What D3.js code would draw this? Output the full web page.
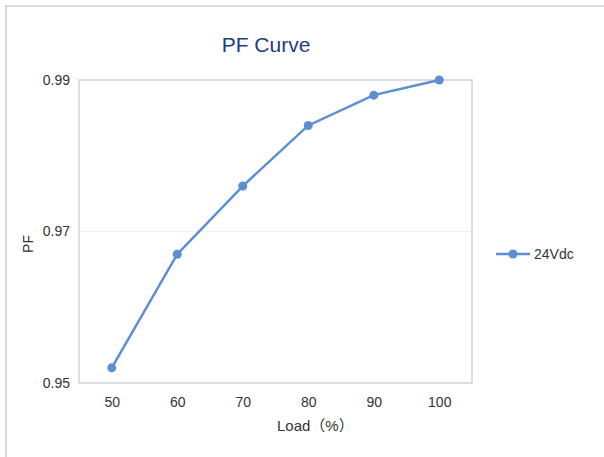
<!DOCTYPE html>
<html>
<head>
<meta charset="utf-8">
<script src="https://cdn.jsdelivr.net/npm/d3@7"></script>
<style>
  body { margin: 0; background: #fff; }
  text { font-family: "Liberation Sans", Arial, sans-serif; }
</style>
</head>
<body>
<div id="chart"></div>
<script>
const w = 604;
const h = 457;
// plot area edges
const plotLeft = 79;
const plotRight = 472;
const plotTop = 80;
const plotBottom = 383;

// data
const loads = ['50', '60', '70', '80', '90', '100'];
const pf24 = [0.952, 0.967, 0.976, 0.984, 0.988, 0.99];
const yTicks = [0.95, 0.97, 0.99];
const seriesName = '24Vdc';

const lineColor = '#5b8fd2';

const svg = d3
  .select('#chart')
  .append('svg')
  .attr('width', w)
  .attr('height', h);

// outer frame, cropped at right and bottom
svg
  .append('rect')
  .attr('x', 6)
  .attr('y', 6)
  .attr('width', 800)
  .attr('height', 800)
  .attr('fill', 'none')
  .attr('stroke', '#dadada')
  .attr('stroke-width', 2);

const xScale = d3
  .scalePoint()
  .domain(loads)
  .range([plotLeft, plotRight])
  .padding(0.5);
const yScale = d3.scaleLinear().domain([0.95, 0.99]).range([plotBottom, plotTop]);

// faint gridline
svg
  .append('g')
  .selectAll('line')
  .data(yTicks.slice(1, -1))
  .enter()
  .append('line')
  .attr('x1', plotLeft)
  .attr('x2', plotRight)
  .attr('y1', (d) => yScale(d))
  .attr('y2', (d) => yScale(d))
  .attr('stroke', '#efefef')
  .attr('stroke-width', 1);

// plot area border
svg
  .append('rect')
  .attr('x', plotLeft)
  .attr('y', plotTop)
  .attr('width', plotRight - plotLeft)
  .attr('height', plotBottom - plotTop)
  .attr('fill', 'none')
  .attr('stroke', '#d3d3d3')
  .attr('stroke-width', 1.5);

const yAxis = d3
  .axisLeft(yScale)
  .tickValues(yTicks)
  .tickSize(0)
  .tickPadding(9)
  .tickFormat(d3.format('.2f'));

const xAxis = d3.axisBottom(xScale).tickSize(0).tickPadding(14);

svg
  .append('g')
  .attr('transform', `translate(${plotLeft},0)`)
  .call(yAxis)
  .call((g) => g.select('.domain').remove())
  .selectAll('text')
  .attr('font-size', 14)
  .attr('font-family', '"Liberation Sans", Arial, sans-serif')
  .attr('fill', '#333');

svg
  .append('g')
  .attr('transform', `translate(0,${plotBottom})`)
  .call(xAxis)
  .call((g) => g.select('.domain').remove())
  .selectAll('text')
  .attr('font-size', 14)
  .attr('font-family', '"Liberation Sans", Arial, sans-serif')
  .attr('fill', '#333');

// title and axis titles
svg
  .append('text')
  .attr('x', 266)
  .attr('y', 52)
  .attr('text-anchor', 'middle')
  .attr('font-size', 21)
  .attr('fill', '#1f3c86')
  .text('PF Curve');

svg
  .append('text')
  .attr('x', 277)
  .attr('y', 431)
  .attr('font-size', 15)
  .attr('fill', '#333')
  .style('font-family', '"Liberation Sans", "Noto Sans CJK SC", sans-serif')
  .text('Load（%）');

svg
  .append('text')
  .attr('transform', 'translate(33,244) rotate(-90)')
  .attr('text-anchor', 'middle')
  .attr('font-size', 14)
  .attr('fill', '#333')
  .text('PF');

// series
const line = d3
  .line()
  .x((d, i) => xScale(loads[i]))
  .y((d) => yScale(d));

svg
  .append('path')
  .datum(pf24)
  .attr('d', line)
  .attr('fill', 'none')
  .attr('stroke', lineColor)
  .attr('stroke-width', 2.5);

svg
  .append('g')
  .selectAll('circle')
  .data(pf24)
  .enter()
  .append('circle')
  .attr('cx', (d, i) => xScale(loads[i]))
  .attr('cy', (d) => yScale(d))
  .attr('r', 4.5)
  .attr('fill', lineColor);

// legend
const legend = svg.append('g').attr('transform', 'translate(496,254)');
legend
  .append('line')
  .attr('x1', 0)
  .attr('x2', 34)
  .attr('stroke', lineColor)
  .attr('stroke-width', 2.5);
legend.append('circle').attr('cx', 17).attr('r', 4.5).attr('fill', lineColor);
legend
  .append('text')
  .attr('x', 38)
  .attr('y', 5)
  .attr('font-size', 14)
  .attr('fill', '#333')
  .text(seriesName);
</script>
</body>
</html>
